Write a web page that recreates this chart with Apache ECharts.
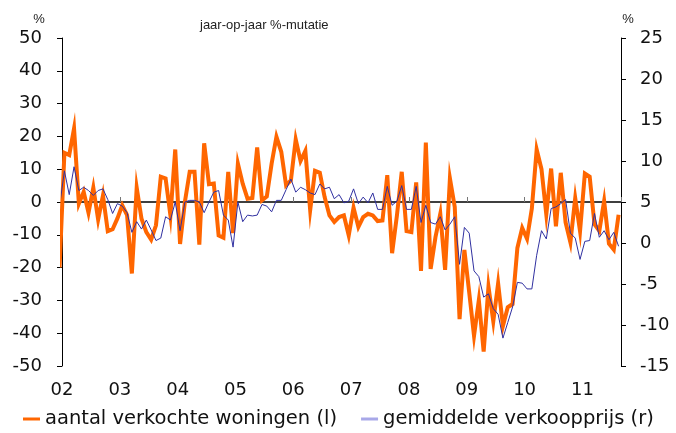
<!DOCTYPE html>
<html><head><meta charset="utf-8">
<script src="https://cdn.jsdelivr.net/npm/echarts@6/dist/echarts.min.js"></script>
<style>html,body{margin:0;padding:0;background:#fff}#c{width:676px;height:433px}</style>
</head><body><div id="c"></div>
<script>
// x labels: years 2002..2011
const yearLabels = ['02','03','04','05','06','07','08','09','10','11'];
// data are monthly, first value = December 2001 (month offset -1 from Jan 2002)
const firstMonth = -1;
// aantal verkochte woningen, % y/y (left axis)
const salesVolume = [
  -20,
  15.0, 14.3, 22.4, -0.5, 3.1, -3.3, 4.4, -5.4, 2.0, -8.9, -8.3, -5,
  -1, -4, -21.8, 4.4, -5.1, -9.2, -11.5, -7.1, 7.7, 7.2, -4.1, 16.0,
  -12.8, 0, 9.2, 9.2, -13.0, 17.9, 5.4, 5.6, -10.2, -10.9, 9.2, -9.5,
  11.7, 5.6, 1.0, 1.2, 16.6, 0.5, 1.7, 11.7, 19.9, 15.3, 5.1, 6.6,
  19.1, 12.5, 15.6, -2.5, 9.5, 8.9, 1.5, -4.1, -6.1, -4.6, -4.1, -10.2,
  -1.7, -7.6, -4.6, -3.6, -4.1, -5.8, -5.6, 8.2, -15.6, -4.1, 9.2, -8.9,
  -9.2, 6, -21.0, 18.1, -20.4, -10.7, -3.6, -20.7, 7.2, -1.5, -35.7, -14.6,
  -27.5, -40.8, -29.9, -45.6, -25.8, -36.4, -24.8, -37.8, -32.1, -31.1, -14.0, -7.9,
  -11.2, -2, 16.0, 10.0, -3.8, 10.2, -7.4, 8.9, -6.2, -12.3, 1.2, -8.9,
  8.7, 7.7, -6.8, -8.8, 0.3, -12.7, -14.5, -3.9
];
// gemiddelde verkoopprijs, % y/y (right axis)
const avgPrice = [
  4.5,
  8.8, 5.9, 9.3, 6.4, 6.8, 6.4, 5.8, 6.4, 6.6, 5.3, 3.6, 4.8,
  4.5, 3.7, 1.3, 2.6, 1.7, 2.8, 1.6, 0.3, 0.6, 3.2, 2.8, 5.0,
  1.5, 5.0, 5.2, 5.2, 5.0, 3.7, 5.0, 6.2, 6.4, 3.4, 2.8, -0.5,
  5.0, 2.6, 3.4, 3.3, 3.4, 4.7, 4.5, 3.8, 5.2, 5.2, 6.5, 7.8,
  6.2, 6.8, 6.5, 6.1, 5.9, 7.2, 6.6, 6.8, 5.4, 5.9, 4.9, 5.1,
  6.6, 4.8, 5.6, 4.9, 6.1, 4.1, 4.1, 6.9, 4.6, 5.1, 7.0, 4.1,
  4.1, 6.9, 2.5, 4.6, 2.5, 2.3, 3.2, 1.6, 2.3, 3.2, -2.6, 1.9,
  1.2, -3.4, -4.1, -6.6, -6.2, -8.0, -8.7, -11.6, -9.7, -7.8, -4.8, -4.9,
  -5.6, -5.6, -1.5, 1.5, 0.5, 4.2, 4.4, 4.8, 5.3, 1.2, 0.6, -2.0,
  0.2, 0.3, 3.6, 0.7, 1.5, 0.4, 1.3, -0.4
];
const seriesNames = ['aantal verkochte woningen (l)', 'gemiddelde verkoopprijs (r)'];
const titleText = 'jaar-op-jaar %-mutatie';

const toPoints = arr => arr.map((v, i) => [firstMonth + i + 0.5, v]);
const font = 'DejaVu Sans';
const chart = echarts.init(document.getElementById('c'), null, {renderer: 'canvas'});
const xMax = 116;
const xLabelFmt = v => (v % 12 === 0 && v / 12 < yearLabels.length) ? yearLabels[v / 12] : '';
chart.setOption({
  animation: false,
  title: {text: titleText, left: 195, top: 14,
    textStyle: {fontSize: 13, fontWeight: 'normal', fontFamily: 'Liberation Sans', color: '#222'}},
  grid: {left: 62, right: 55, top: 38, bottom: 67},
  legend: {
    left: 23, top: 409, padding: 0, itemWidth: 17, itemHeight: 3, itemGap: 24, icon: 'rect',
    textStyle: {fontSize: 19.5, fontFamily: font, color: '#111'},
    data: [
      {name: seriesNames[0], itemStyle: {color: '#FF6600'}},
      {name: seriesNames[1], itemStyle: {color: '#A8A8E8'}}
    ]
  },
  xAxis: [
    {type: 'value', min: 0, max: xMax, interval: 12,
      axisLine: {show: false, onZero: false}, axisTick: {show: false}, splitLine: {show: false},
      axisLabel: {formatter: xLabelFmt, fontSize: 18, fontFamily: font, color: '#111', margin: 15}},
    {type: 'value', min: 0, max: xMax, interval: 12,
      axisLine: {show: true, onZero: true, lineStyle: {color: '#000', width: 1.5}},
      axisTick: {show: true, length: 5, lineStyle: {color: '#777'}},
      axisLabel: {show: false}, splitLine: {show: false}}
  ],
  yAxis: [
    {type: 'value', min: -50, max: 50, interval: 10, position: 'left',
      name: '%', nameLocation: 'end', nameGap: 12,
      nameTextStyle: {fontSize: 13, fontFamily: 'Liberation Sans', color: '#222', padding: [0, 46, 0, 0]},
      axisLine: {show: true, onZero: false, lineStyle: {color: '#000', width: 1}},
      axisTick: {show: true, length: 5, lineStyle: {color: '#000'}},
      splitLine: {show: false},
      axisLabel: {fontSize: 18, fontFamily: font, color: '#111', margin: 20}},
    {type: 'value', min: -15, max: 25, interval: 5, position: 'right',
      name: '%', nameLocation: 'end', nameGap: 12,
      nameTextStyle: {fontSize: 13, fontFamily: 'Liberation Sans', color: '#222', padding: [0, 0, 0, 14]},
      axisLine: {show: true, onZero: false, lineStyle: {color: '#000', width: 1}},
      axisTick: {show: true, length: 5, lineStyle: {color: '#000'}},
      splitLine: {show: false},
      axisLabel: {fontSize: 18, fontFamily: font, color: '#111', margin: 19}}
  ],
  series: [
    {name: seriesNames[0], type: 'line', xAxisIndex: 0, yAxisIndex: 0,
      data: toPoints(salesVolume), showSymbol: false, symbol: 'none', clip: true,
      color: '#FF6600', lineStyle: {color: '#FF6600', width: 4, join: 'miter'}},
    {name: seriesNames[1], type: 'line', xAxisIndex: 0, yAxisIndex: 1,
      data: toPoints(avgPrice), showSymbol: false, symbol: 'none', clip: true,
      color: '#3030A0', lineStyle: {color: '#3030A0', width: 1}}
  ]
});
</script></body></html>
